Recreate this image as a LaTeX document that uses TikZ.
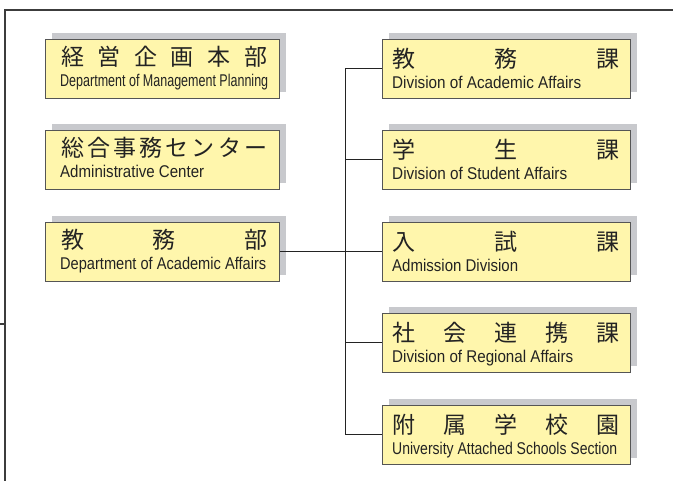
\documentclass[tikz,border=0pt]{standalone}
\usepackage{fontspec}
\usepackage{graphicx}
\usetikzlibrary{shadows}
\newfontfamily\jpf{Noto Sans CJK JP}
\newfontfamily\enf{Liberation Sans}
\definecolor{boxfill}{RGB}{255,246,172}
\definecolor{boxline}{RGB}{85,85,85}
\definecolor{shadowgray}{RGB}{200,201,205}
\definecolor{framec}{RGB}{60,60,60}
\definecolor{txt}{RGB}{35,35,35}
\tikzset{
  orgbox/.style={draw=boxline, line width=0.9pt, fill=boxfill, inner sep=0pt,
    anchor=north west, minimum height=59pt,
    drop shadow={shadow xshift=7pt, shadow yshift=6pt, fill=shadowgray, opacity=1}},
  lbox/.style={orgbox, minimum width=234pt},
  rbox/.style={orgbox, minimum width=248pt},
  jptext/.style={inner sep=0pt, anchor=west, text=txt, font=\jpf\fontsize{23}{23}\selectfont},
  entext/.style={inner sep=0pt, anchor=base west, text=txt, font=\enf\fontsize{17}{17}\selectfont},
  conn/.style={draw=txt, line width=1pt},
  framel/.style={draw=framec, line width=1.5pt}
}
\newcommand{\spreadjp}[2]{\makebox[#1][s]{#2}}
\newcommand{\entxt}[2]{\resizebox{#1}{\height}{#2}}
\begin{document}
\begin{tikzpicture}[x=1pt,y=-1pt]
\useasboundingbox (0,0) rectangle (673,481);
% frame
\draw[framel] (673,10) -- (5,10) -- (5,482);
\coordinate (tickL) at (0,324);
\coordinate (tickR) at (5,324);
\draw[framel] (tickL) -- (tickR);

% left boxes
\node[lbox] (k1) at (45,39) {};
\node[jptext] (k1j) at (61,57) {\spreadjp{206pt}{経\hfill 営\hfill 企\hfill 画\hfill 本\hfill 部}};
\node[entext] (k1e) at (60,87) {\entxt{208pt}{Department of Management Planning}};

\node[lbox] (k2) at (45,130) {};
\node[jptext] (k2j) at (61,148) {\spreadjp{206pt}{総\hfill 合\hfill 事\hfill 務\hfill セ\hfill ン\hfill タ\hfill ー}};
\node[entext] (k2e) at (60,178) {\entxt{144pt}{Administrative Center}};

\node[lbox] (k3) at (45,222) {};
\node[jptext] (k3j) at (61,240) {\spreadjp{206pt}{教\hfill 務\hfill 部}};
\node[entext] (k3e) at (60,270) {\entxt{206pt}{Department of Academic Affairs}};

% right boxes
\node[rbox] (r1) at (382,39) {};
\node[jptext] (r1j) at (392,58.5) {\spreadjp{227pt}{教\hfill 務\hfill 課}};
\node[entext] (r1e) at (392,89) {\entxt{189pt}{Division of Academic Affairs}};

\node[rbox] (r2) at (382,130) {};
\node[jptext] (r2j) at (392,149.5) {\spreadjp{227pt}{学\hfill 生\hfill 課}};
\node[entext] (r2e) at (392,180) {\entxt{175pt}{Division of Student Affairs}};

\node[rbox] (r3) at (382,222) {};
\node[jptext] (r3j) at (392,241.5) {\spreadjp{227pt}{入\hfill 試\hfill 課}};
\node[entext] (r3e) at (392,272) {\entxt{126pt}{Admission Division}};

\node[rbox] (r4) at (382,313) {};
\node[jptext] (r4j) at (392,332.5) {\spreadjp{227pt}{社\hfill 会\hfill 連\hfill 携\hfill 課}};
\node[entext] (r4e) at (392,363) {\entxt{181pt}{Division of Regional Affairs}};

\node[rbox] (r5) at (382,405) {};
\node[jptext] (r5j) at (392,424.5) {\spreadjp{227pt}{附\hfill 属\hfill 学\hfill 校\hfill 園}};
\node[entext] (r5e) at (392,455) {\entxt{225pt}{University Attached Schools Section}};

% connectors
\coordinate (spx) at (345,0);
\draw[conn] (r1.west) -- (r1.west -| spx) -- (r5.west -| spx) -- (r5.west);
\draw[conn] (r2.west) -- (r2.west -| spx);
\draw[conn] (r3.west) -- (r3.west -| spx);
\draw[conn] (r4.west) -- (r4.west -| spx);
\draw[conn] (k3.east) -- (k3.east -| spx);
\end{tikzpicture}
\end{document}
